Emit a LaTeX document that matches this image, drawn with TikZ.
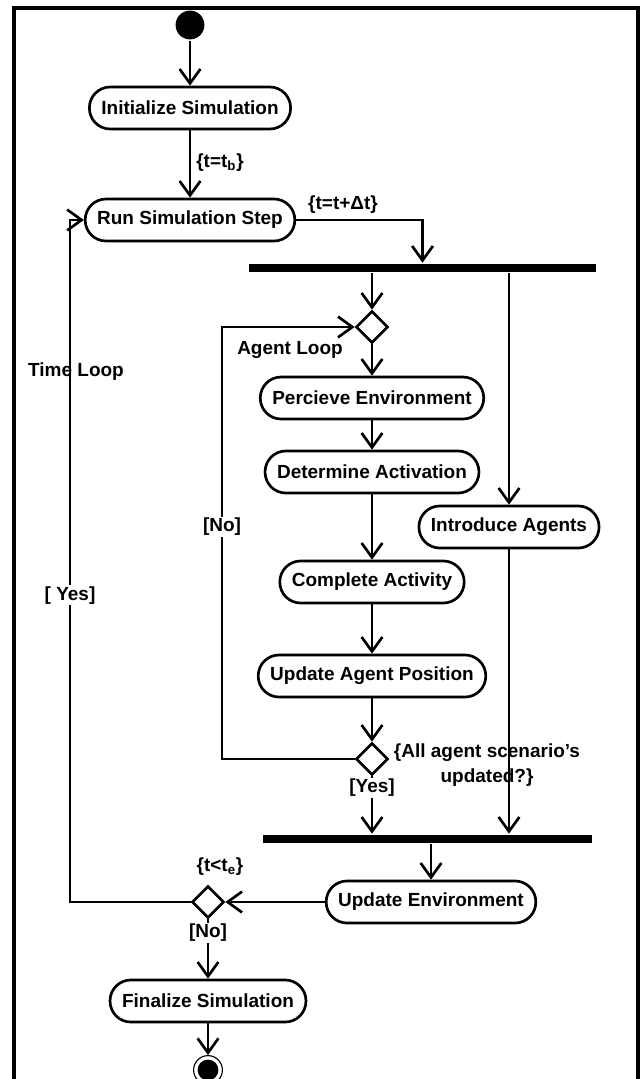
\documentclass[tikz,border=0pt]{standalone}
\usepackage{fontspec}
\setmainfont{Liberation Sans}
\usetikzlibrary{arrows.meta,positioning,shapes.geometric,calc}

\begin{document}
\begin{tikzpicture}[x=0.025cm,y=-0.025cm,line width=1.9pt,
  font=\fontsize{13.5}{17.5}\selectfont\bfseries,
  act/.style={draw,rectangle,rounded corners=0.52cm,minimum height=1.05cm,inner xsep=0.3cm,inner ysep=0pt,fill=white},
  dec/.style={draw,diamond,minimum width=0.8cm,minimum height=0.8cm,inner sep=0pt,fill=white},
  syncbar/.style={fill=black,inner sep=0pt,minimum height=0.2cm},
  arr/.style={-{Straight Barb[length=3.6mm,width=5.2mm]}},
  guard/.style={fill=white,inner sep=1pt},
  lbl/.style={inner sep=0pt}]
\useasboundingbox (0,0) rectangle (641,1079);
\draw[line width=2.2pt] (14,1095) -- (14,8) -- (638,8) -- (638,1095);
% Time loop
\node[circle,fill=black,minimum size=0.72cm,inner sep=0pt] (start) at (190,25) {};
\node[act] (init) at (190,108) {Initialize Simulation};
\node[act] (run) at (190,220) {Run Simulation Step};
\node[syncbar,minimum width=8.675cm] (fork) at (422.5,268) {};
% Agent loop
\node[dec] (dtop) at (372,327) {};
\node[act] (perc) at (372,398) {Percieve Environment};
\node[act] (det) at (372,472) {Determine Activation};
\node[act] (comp) at (372,582) {Complete Activity};
\node[act] (upd) at (372,676) {Update Agent Position};
\node[dec] (dbot) at (372,759) {};
\node[act] (intro) at (509,527) {Introduce Agents};
% Join and end
\node[syncbar,minimum width=8.225cm] (join) at (427.5,839) {};
\node[act] (env) at (431,902) {Update Environment};
\node[dec] (tdec) at (208,902) {};
\node[act] (final) at (208,1001) {Finalize Simulation};
\node[circle,draw,line width=0.8pt,minimum size=0.72cm,inner sep=0pt,
  path picture={\fill (path picture bounding box.center) circle (0.26cm);}] (stop) at (208,1070) {};
% labels
\node[lbl,anchor=west] (tb) at (195,163) {\{t=t\textsubscript{b}\}};
\node[lbl] (dt) at (343,205) {\{t=t+Δt\}};
\node[lbl] (aloop) at (290,350) {Agent Loop};
\node[lbl] (tloop) at (76,372) {Time Loop};
\node[lbl,align=center] (allupd) at (487,765) {\{All agent scenario’s\\updated?\}};
\node[lbl] (te) at (220,867) {\{t<t\textsubscript{e}\}};
% flows
\draw[arr] (start) -- (init);
\draw[arr] (init) -- (run);
\draw[arr] (run.east) -| (fork.north);
\draw[arr] (dtop.north |- fork.south) -- (dtop.north);
\draw[arr] (intro.north |- fork.south) -- (intro.north);
\draw[arr] (dtop) -- (perc);
\foreach \a/\b in {perc/det,det/comp,comp/upd,upd/dbot}{\draw[arr] (\a) -- (\b);}
\draw[arr] (dbot.south) -- node[guard,pos=0.2] (yes2) {[Yes]} (dbot.south |- join.north);
\draw[arr] (intro.south) -- (intro.south |- join.north);
\coordinate (acorner) at (222,759);
\draw[arr] (dbot.west) -- (acorner) -- node[guard,pos=0.537] (no1) {[No]} (acorner |- dtop.west) -- (dtop.west);
\draw[arr] (join.south -| env.north) -- (env.north);
\draw[arr] (env.west) -- (tdec.east);
\draw[arr] (tdec.south) -- node[guard,pos=0.23] (no2) {[No]} (final.north);
\draw[arr] (final) -- (stop);
\coordinate (tcorner) at (70,902);
\draw[arr] (tdec.west) -- (tcorner) -- node[guard,pos=0.45] (yes1) {[ Yes]} (tcorner |- run.west) -- (run.west);
\end{tikzpicture}
\end{document}
